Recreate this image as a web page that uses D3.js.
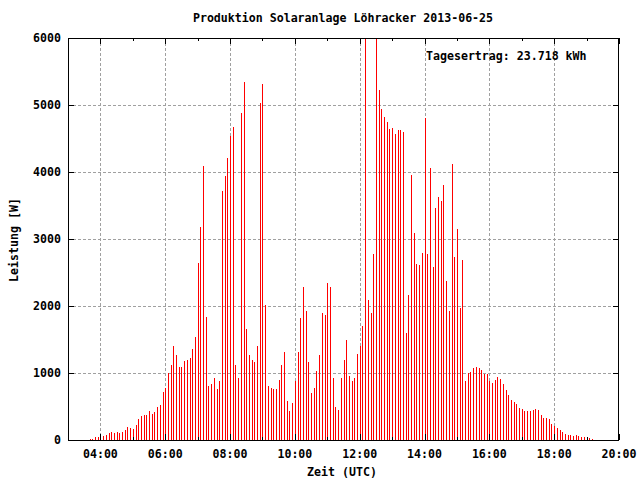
<!DOCTYPE html>
<html>
<head>
<meta charset="utf-8">
<script src="https://cdn.jsdelivr.net/npm/d3@7"></script>
<style>
  html, body { margin: 0; padding: 0; background: #fff; }
  svg { display: block; }
  text { font-family: "DejaVu Sans Mono", "Liberation Mono", monospace; font-weight: bold; font-size: 11.6px; fill: #000; }
</style>
</head>
<body>
<svg id="chart" width="640" height="480"></svg>
<script>
// ---------- data ----------
const chartTitle = "Produktion Solaranlage Löhracker 2013-06-25";
const xAxisTitle = "Zeit (UTC)";
const yAxisTitle = "Leistung [W]";
const yieldLabel = "Tagesertrag: 23.718 kWh";

const times = [
  "03:40","03:45","03:50","03:55",
  "04:00","04:05","04:10","04:15","04:20","04:25","04:30","04:35","04:40","04:45","04:50","04:55",
  "05:00","05:05","05:10","05:15","05:20","05:25","05:30","05:35","05:40","05:45","05:50","05:55",
  "06:00","06:05","06:10","06:15","06:20","06:25","06:30","06:35","06:40","06:45","06:50","06:55",
  "07:00","07:05","07:10","07:15","07:20","07:25","07:30","07:35","07:40","07:45","07:50","07:55",
  "08:00","08:05","08:10","08:15","08:20","08:25","08:30","08:35","08:40","08:45","08:50","08:55",
  "09:00","09:05","09:10","09:15","09:20","09:25","09:30","09:35","09:40","09:45","09:50","09:55",
  "10:00","10:05","10:10","10:15","10:20","10:25","10:30","10:35","10:40","10:45","10:50","10:55",
  "11:00","11:05","11:10","11:15","11:20","11:25","11:30","11:35","11:40","11:45","11:50","11:55",
  "12:00","12:05","12:10","12:15","12:20","12:25","12:30","12:35","12:40","12:45","12:50","12:55",
  "13:00","13:05","13:10","13:15","13:20","13:25","13:30","13:35","13:40","13:45","13:50","13:55",
  "14:00","14:05","14:10","14:15","14:20","14:25","14:30","14:35","14:40","14:45","14:50","14:55",
  "15:00","15:05","15:10","15:15","15:20","15:25","15:30","15:35","15:40","15:45","15:50","15:55",
  "16:00","16:05","16:10","16:15","16:20","16:25","16:30","16:35","16:40","16:45","16:50","16:55",
  "17:00","17:05","17:10","17:15","17:20","17:25","17:30","17:35","17:40","17:45","17:50","17:55",
  "18:00","18:05","18:10","18:15","18:20","18:25","18:30","18:35","18:40","18:45","18:50","18:55",
  "19:00","19:05","19:10"
];

const power = [
  20,20,40,40,
  60,60,75,105,120,105,120,105,120,150,195,180,
  165,225,315,360,375,375,435,390,420,495,525,720,
  780,1000,1120,1400,1270,1090,1090,1180,1200,1220,1360,1530,
  2640,3180,4090,1830,810,840,930,765,885,3715,3940,4210,
  4540,4670,1120,930,4880,5340,1650,1270,1200,1170,1410,5030,
  5310,2020,810,780,765,765,900,1120,1320,585,435,555,
  885,1320,1815,2280,1920,1170,695,770,1025,1265,1890,1860,
  2350,2290,920,500,455,920,1200,1500,950,875,920,1280,
  1410,1695,6000,2085,1890,2770,6000,5220,4940,4820,4745,4640,
  4655,4565,4625,4625,4595,1590,2160,3955,3085,2620,2610,2790,
  4805,2770,4055,2580,3460,3625,3565,3805,2370,1920,4115,2730,
  3145,1965,2680,875,995,1010,1070,1085,1070,1040,980,980,
  875,845,890,935,905,830,740,665,590,560,530,485,
  470,440,440,440,455,470,455,380,335,335,320,245,
  215,185,155,125,95,80,80,65,80,65,50,50,
  35,35,20
];

const yTicks = [0, 1000, 2000, 3000, 4000, 5000, 6000];
const xTickLabels = ["04:00","06:00","08:00","10:00","12:00","14:00","16:00","18:00","20:00"];
const xMinorLabels = ["03:00","05:00","07:00","09:00","11:00","13:00","15:00","17:00","19:00"];
const xDomain = ["03:00", "20:00"];
const yDomain = [0, 6000];

// ---------- helpers ----------
const toMin = s => { const [h, m] = s.split(":").map(Number); return h * 60 + m; };

// ---------- layout ----------
const L = 68, R = 619, T = 38, B = 440;
const svg = d3.select("#chart");
svg.append("rect").attr("width", 640).attr("height", 480).attr("fill", "#fff");

const x = d3.scaleLinear().domain(xDomain.map(toMin)).range([L, R]);
const y = d3.scaleLinear().domain(yDomain).range([B, T]);
const px = v => Math.round(v) + 0.5;

svg.append("clipPath").attr("id", "plotclip")
  .append("rect").attr("x", L).attr("y", T).attr("width", R - L).attr("height", B - T);

// grid
const grid = svg.append("g").attr("stroke", "#a0a0a0").attr("stroke-width", 1).attr("stroke-dasharray", "3,2");
yTicks.filter(v => v > yDomain[0] && v < yDomain[1]).forEach(v => {
  grid.append("line").attr("x1", L).attr("x2", R).attr("y1", px(y(v))).attr("y2", px(y(v)));
});
xTickLabels.map(toMin).filter(m => x(m) < R - 1).forEach(m => {
  grid.append("line").attr("x1", px(x(m))).attr("x2", px(x(m))).attr("y1", T).attr("y2", B);
});

// bars (impulses)
svg.append("g").attr("clip-path", "url(#plotclip)")
  .selectAll("line").data(times.map((t, i) => ({ t: toMin(t), v: power[i] })))
  .join("line")
  .attr("x1", d => px(x(d.t))).attr("x2", d => px(x(d.t)))
  .attr("y1", Math.round(y(0)))
  .attr("y2", d => Math.round(y(Math.min(d.v, yDomain[1]))))
  .attr("stroke", "#ff0000").attr("stroke-width", 1);

// border
svg.append("rect").attr("x", L + 0.5).attr("y", T + 0.5).attr("width", R - L - 1).attr("height", B - T)
  .attr("fill", "none").attr("stroke", "#000").attr("stroke-width", 1);

// ticks
const tk = svg.append("g").attr("stroke", "#000").attr("stroke-width", 1);
yTicks.forEach(v => {
  const yy = px(y(v));
  tk.append("line").attr("x1", L).attr("x2", L + 6).attr("y1", yy).attr("y2", yy);
  tk.append("line").attr("x1", R - 6).attr("x2", R).attr("y1", yy).attr("y2", yy);
});
xTickLabels.map(toMin).forEach(m => {
  const xx = px(x(m));
  tk.append("line").attr("x1", xx).attr("x2", xx).attr("y1", B).attr("y2", B - 6);
  tk.append("line").attr("x1", xx).attr("x2", xx).attr("y1", T).attr("y2", T + 6);
});
xMinorLabels.map(toMin).forEach(m => {
  const xx = px(x(m));
  tk.append("line").attr("x1", xx).attr("x2", xx).attr("y1", B).attr("y2", B - 3);
  tk.append("line").attr("x1", xx).attr("x2", xx).attr("y1", T).attr("y2", T + 3);
});

// tick labels
yTicks.forEach(v => {
  svg.append("text").attr("x", 61).attr("y", y(v)).attr("dy", "0.36em")
    .attr("text-anchor", "end").text(v);
});
xTickLabels.forEach(s => {
  svg.append("text").attr("x", x(toMin(s))).attr("y", 458)
    .attr("text-anchor", "middle").text(s);
});

// titles
svg.append("text").attr("x", 343).attr("y", 22).attr("text-anchor", "middle").text(chartTitle);
svg.append("text").attr("x", 342).attr("y", 476).attr("text-anchor", "middle").text(xAxisTitle);
svg.append("text").attr("transform", "translate(18,240) rotate(-90)").attr("text-anchor", "middle").text(yAxisTitle);
svg.append("text").attr("x", 426).attr("y", 60).text(yieldLabel);
</script>
</body>
</html>
